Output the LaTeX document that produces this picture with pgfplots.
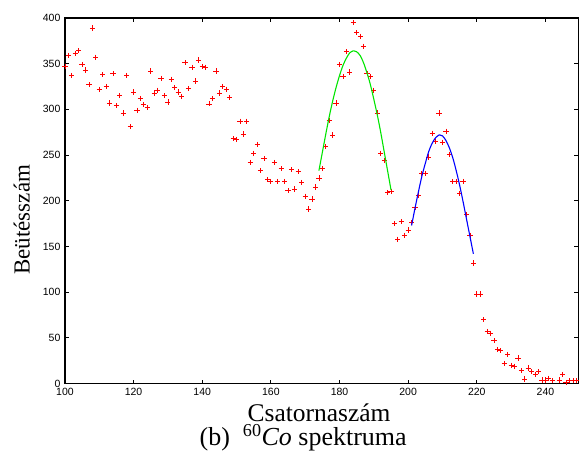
\documentclass[border=0pt]{standalone}
\usepackage{fontspec}
\setmainfont{Liberation Serif}
\setsansfont{Liberation Sans}
\usepackage{pgfplots}
\pgfplotsset{compat=1.18}

\pgfplotstableread{
ch n
100 347
101 359
102 337
103 361
104 364
105 349
106 343
107 327
108 389
109 357
110 322
111 338
112 325
113 307
114 339
115 304
116 315
117 296
118 337
119 281
120 319
121 299
122 312
123 305
124 302
125 342
126 318
127 321
128 334
129 315
130 308
131 333
132 324
133 319
134 314
135 351
136 323
137 346
138 331
139 354
140 347
141 346
142 306
143 312
144 342
145 318
146 325
147 322
148 313
149 268
150 267
151 287
152 273
153 287
154 242
155 252
156 262
157 233
158 246
159 223
160 221
161 242
162 221
163 235
164 221
165 211
166 234
167 213
168 232
169 220
170 205
171 191
172 202
173 215
174 225
175 235
176 259
177 288
178 272
179 307
180 349
181 336
182 363
183 341
184 395
185 384
186 380
187 369
188 339
189 336
190 321
191 296
192 252
193 244
194 209
195 210
196 175
197 158
198 177
199 162
200 168
201 176
202 193
203 206
204 230
205 230
206 248
207 274
208 265
209 296
210 264
211 276
212 251
213 221
214 221
215 208
216 221
217 185
218 162
219 132
220 98
221 98
222 70
223 57
224 55
225 47
226 37
227 36
228 22
229 32
230 20
231 19
232 28
233 14
234 5
235 17
236 13
237 10
238 13
239 4
240 4
241 6
242 3
243 -1
244 4
245 10
246 1
247 3
248 3
249 3
}\spectrum

% fitted peaks
\pgfplotstableread{
x y
174 233
175 253
176 273
177 292
178 309
179 324
180 337
181 348
182 356
183 362
184 364
184.2 364
185 363
186 359
187 351
188 340
189 327
190 311
191 294
192 275
193 254
194 233
195 212
}\fitA

\pgfplotstableread{
x y
201 173
202 192
203 210
204 227
205 241
206 254
207 263
208 269
209 272
209.2 272
210 271
211 266
212 258
213 247
214 233
215 217
216 199
217 180
218 161
219 142
}\fitB

\begin{document}
\begin{tikzpicture}
\begin{axis}[
    scale only axis,
    width=514pt, height=366pt,
    xmin=100, xmax=249.6,
    ymin=0, ymax=400,
    xtick={100,120,...,240},
    ytick={0,50,...,400},
    tick align=inside,
    major tick length=4pt,
    clip mode=individual,
    axis line style={line width=1.2pt},
    every tick/.style={black, line width=1.1pt},
    /pgf/number format/assume math mode=true,
    tick label style={font=\fontsize{10.5}{12}\selectfont\sffamily},
    xticklabel style={yshift=-1pt},
    yticklabel style={xshift=-1pt},
    xlabel={Csatornaszám},
    ylabel={Beütésszám},
    every axis x label/.style={at={(axis description cs:0.495,-0.08)}, anchor=center,
        font=\fontsize{25.5}{28}\selectfont},
    every axis y label/.style={at={(axis description cs:-0.084,0.448)}, anchor=center, rotate=90,
        font=\fontsize{23}{26}\selectfont},
]
\addplot[only marks, mark=+, mark size=2.6pt, red, mark options={red, line width=0.8pt}]
    table[x=ch, y=n] {\spectrum};
\addplot[smooth, line width=1.1pt, color={rgb,1:red,0;green,0.9;blue,0}] table[x=x, y=y] {\fitA};
\addplot[smooth, line width=1.1pt, blue] table[x=x, y=y] {\fitB};
\node[font=\fontsize{26}{28}\selectfont, anchor=center] at (axis description cs:0.464,-0.147)
    {(b)\ \ \textsuperscript{60}\textit{Co} spektruma};
\end{axis}
\useasboundingbox (-65pt,-67pt) rectangle (514.3pt,384pt);
\end{tikzpicture}
\end{document}
